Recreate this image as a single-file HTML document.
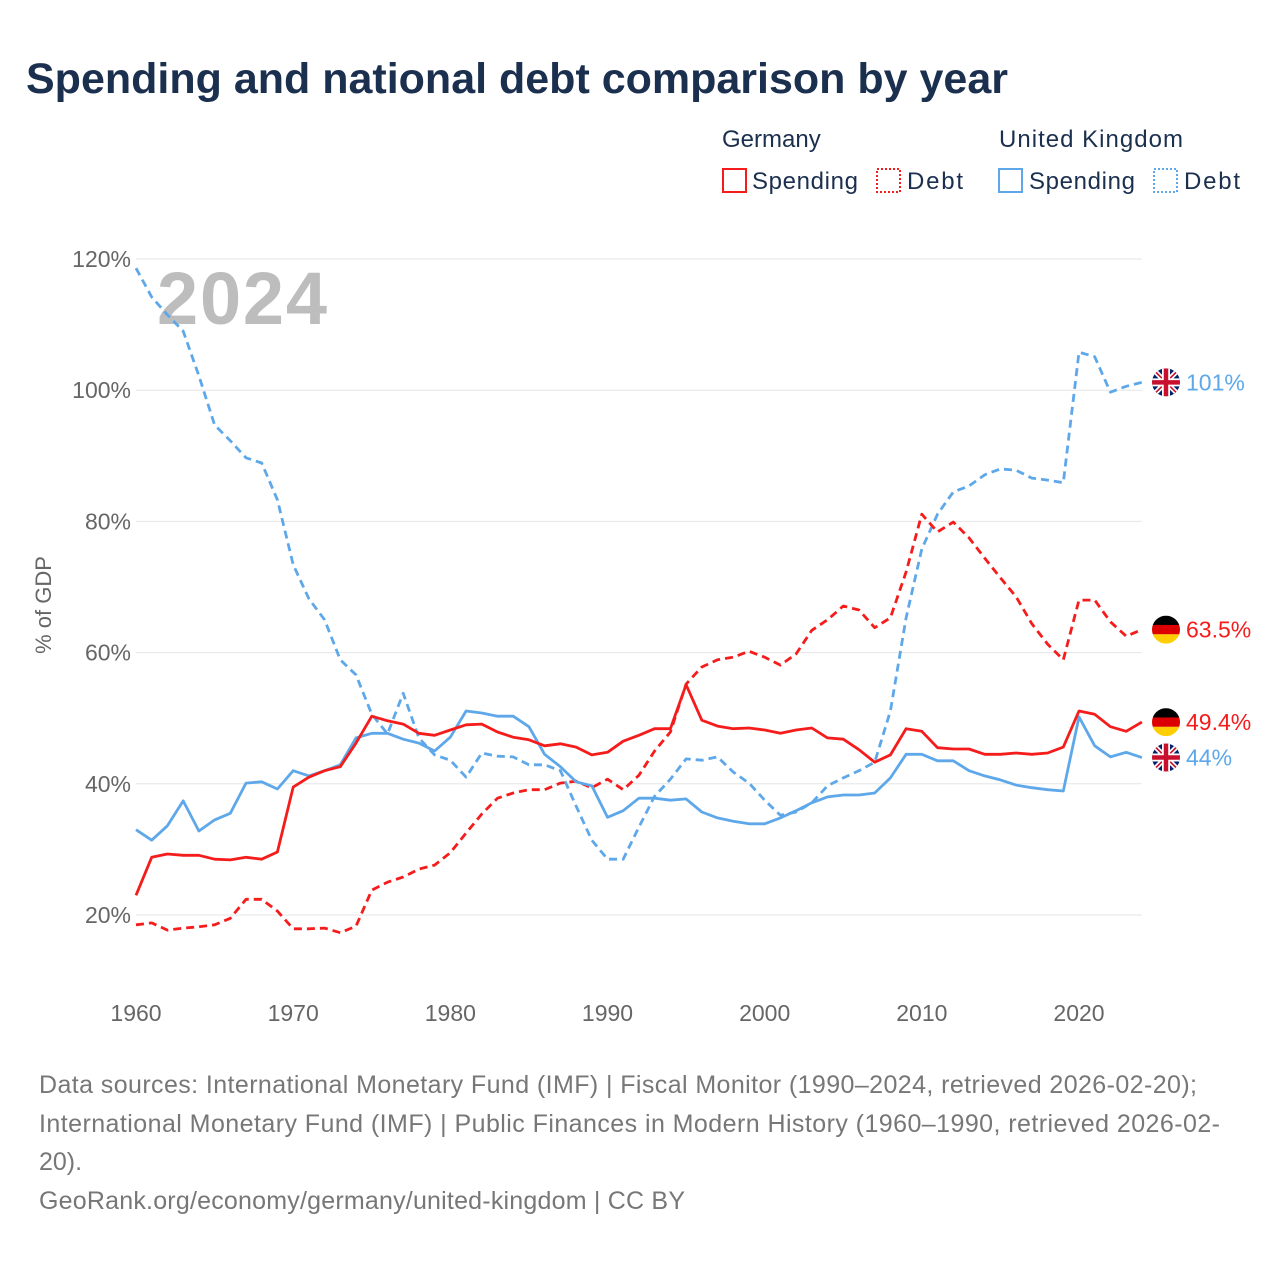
<!DOCTYPE html>
<html><head><meta charset="utf-8"><style>
body{margin:0;background:#fff;}
svg text{font-family:"Liberation Sans",sans-serif;}
</style></head><body>
<svg id="chart" width="1280" height="1280" viewBox="0 0 1280 1280" xmlns="http://www.w3.org/2000/svg">
<text x="26" y="93" font-size="43" font-weight="bold" fill="#1b2f4e">Spending and national debt comparison by year</text>
<g font-size="24" fill="#1b2f4e">
<text x="722" y="147">Germany</text>
<text x="999" y="147" textLength="184">United Kingdom</text>
<g><rect x="723" y="169" width="23" height="23" fill="none" stroke="#f51c1c" stroke-width="2"/><text x="752" y="189" textLength="106">Spending</text></g>
<g><rect x="877" y="169" width="23" height="23" fill="none" stroke="#f51c1c" stroke-width="2" stroke-dasharray="2,2"/><text x="907" y="189" textLength="56">Debt</text></g>
<g><rect x="999" y="169" width="23" height="23" fill="none" stroke="#5ea8ea" stroke-width="2"/><text x="1029" y="189" textLength="106">Spending</text></g>
<g><rect x="1154" y="169" width="23" height="23" fill="none" stroke="#5ea8ea" stroke-width="2" stroke-dasharray="2,2"/><text x="1184" y="189" textLength="56">Debt</text></g>
</g>
<text x="157" y="324" font-size="74" font-weight="bold" fill="#bdbdbd" textLength="170">2024</text>
<text transform="translate(51,605) rotate(-90)" text-anchor="middle" font-size="22" fill="#666">% of GDP</text>
<g id="grid"></g><g id="series"></g><g id="ends"></g>
<g font-size="25" fill="#777">
<text x="39" y="1093" textLength="1158">Data sources: International Monetary Fund (IMF) | Fiscal Monitor (1990–2024, retrieved 2026-02-20);</text>
<text x="39" y="1132" textLength="1181">International Monetary Fund (IMF) | Public Finances in Modern History (1960–1990, retrieved 2026-02-</text>
<text x="39" y="1170">20).</text>
<text x="39" y="1209" textLength="646">GeoRank.org/economy/germany/united-kingdom | CC BY</text>
</g>
</svg>
<script>
const years=[];for(let y=1960;y<=2024;y++)years.push(y);
const yTicks=[20,40,60,80,100,120];
const xTicks=[1960,1970,1980,1990,2000,2010,2020];
const deSpending=[23.0,28.8,29.3,29.1,29.1,28.5,28.4,28.8,28.5,29.6,39.5,41.0,42.0,42.6,46.2,50.3,49.6,49.1,47.7,47.4,48.2,49.0,49.1,47.9,47.1,46.7,45.8,46.1,45.6,44.4,44.8,46.5,47.4,48.4,48.4,55.1,49.7,48.8,48.4,48.5,48.2,47.7,48.2,48.5,47.0,46.8,45.2,43.3,44.4,48.4,48.0,45.5,45.3,45.3,44.5,44.5,44.7,44.5,44.7,45.6,51.1,50.6,48.7,48.0,49.4];
const deDebt=[18.5,18.8,17.7,18.0,18.2,18.5,19.5,22.4,22.4,20.6,17.9,17.9,18.0,17.3,18.3,23.8,25.0,25.8,27.0,27.6,29.5,32.5,35.4,37.8,38.6,39.1,39.1,40.1,40.4,39.4,40.7,39.1,41.3,45.0,47.9,55.2,57.8,58.9,59.3,60.2,59.3,58.1,59.8,63.4,65.0,67.1,66.5,63.8,65.3,72.3,81.1,78.4,79.9,77.5,74.4,71.4,68.5,64.4,61.3,58.9,68.0,68.0,64.7,62.5,63.5];
const ukSpending=[33.0,31.4,33.6,37.4,32.8,34.5,35.5,40.1,40.3,39.2,42.0,41.2,42.0,42.9,47.0,47.7,47.7,46.8,46.2,45.0,47.1,51.1,50.8,50.3,50.3,48.7,44.5,42.6,40.3,39.7,34.9,35.9,37.8,37.8,37.5,37.7,35.7,34.8,34.3,33.9,33.9,34.8,35.9,37.1,38.0,38.3,38.3,38.6,40.9,44.5,44.5,43.5,43.5,42.0,41.2,40.6,39.8,39.4,39.1,38.9,50.2,45.8,44.1,44.8,44.0];
const ukDebt=[118.6,114.2,111.5,109.0,102.2,94.7,92.3,89.7,88.9,83.3,73.4,68.2,65.0,58.9,56.6,50.6,47.6,53.8,47.0,44.4,43.6,41.0,44.7,44.2,44.1,42.9,42.9,42.0,36.6,31.4,28.5,28.5,33.4,38.1,40.7,43.8,43.6,44.1,41.8,40.1,37.5,35.2,35.7,37.1,39.7,40.9,42.0,43.3,51.1,65.3,75.8,81.1,84.5,85.4,87.1,88.0,87.8,86.6,86.3,85.9,105.8,105.1,99.7,100.6,101.2];
const endLabels=['101%','63.5%','49.4%','44%'];
const NS='http://www.w3.org/2000/svg';
const X=y=>136+(y-1960)*(943/60);
const Y=v=>915-(v-20)*6.56;
function mk(tag,attrs,parent){const e=document.createElementNS(NS,tag);for(const k in attrs)e.setAttribute(k,attrs[k]);parent.appendChild(e);return e;}
const grid=document.getElementById('grid');
yTicks.forEach(t=>{
 const l=mk('line',{x1:136,x2:1142,y1:Y(t),y2:Y(t),stroke:'#e6e6e6','stroke-width':1},grid);
 
 
 const tx=mk('text',{x:131,y:Y(t)+8,'text-anchor':'end','font-size':23,fill:'#666'},grid);
 tx.textContent=t+'%';
 
 
});
xTicks.forEach(t=>{
 const tx=mk('text',{x:X(t),y:1021,'text-anchor':'middle','font-size':23,fill:'#666'},grid);
 tx.textContent=t;
 
 
});
const ser=document.getElementById('series');
function line(data,color,dash,name){
 const d=data.map((v,i)=>(i?'L':'M')+X(years[i]).toFixed(1)+','+Y(v).toFixed(1)).join('');
 const p=mk('path',{d:d,fill:'none',stroke:color,'stroke-width':2.8,'stroke-linejoin':'round'},ser);
 if(dash)p.setAttribute('stroke-dasharray','8,5');
 
 
}
const RED='#f51c1c',BLUE='#5ea8ea';
line(ukDebt,BLUE,true,'uk-debt-line');
line(deDebt,RED,true,'germany-debt-line');
line(ukSpending,BLUE,false,'uk-spending-line');
line(deSpending,RED,false,'germany-spending-line');
const ends=document.getElementById('ends');
function flag(cx,cy,de,parent){
 const g=mk('g',{},parent);
 const id='c'+Math.round(cy);
 const cp=mk('clipPath',{id:id},g);mk('circle',{cx:cx,cy:cy,r:14},cp);
 const f=mk('g',{'clip-path':'url(#'+id+')'},g);
 if(de){
  mk('rect',{x:cx-14,y:cy-14,width:28,height:9.4,fill:'#000'},f);
  mk('rect',{x:cx-14,y:cy-4.7,width:28,height:9.4,fill:'#dd0000'},f);
  mk('rect',{x:cx-14,y:cy+4.7,width:28,height:9.4,fill:'#ffce00'},f);
 }else{
  mk('rect',{x:cx-14,y:cy-14,width:28,height:28,fill:'#012169'},f);
  mk('path',{d:`M${cx-14},${cy-14}L${cx+14},${cy+14}M${cx+14},${cy-14}L${cx-14},${cy+14}`,stroke:'#fff','stroke-width':5},f);
  mk('path',{d:`M${cx-14},${cy-14}L${cx+14},${cy+14}M${cx+14},${cy-14}L${cx-14},${cy+14}`,stroke:'#c8102e','stroke-width':1.6},f);
  mk('path',{d:`M${cx},${cy-14}V${cy+14}M${cx-14},${cy}H${cx+14}`,stroke:'#fff','stroke-width':8},f);
  mk('path',{d:`M${cx},${cy-14}V${cy+14}M${cx-14},${cy}H${cx+14}`,stroke:'#c8102e','stroke-width':4.5},f);
 }
 return g;
}
const endSeries=[[ukDebt,false,BLUE,'uk-debt'],[deDebt,true,RED,'germany-debt'],[deSpending,true,RED,'germany-spending'],[ukSpending,false,BLUE,'uk-spending']];
endSeries.forEach((s,i)=>{
 const cy=Y(s[0][s[0].length-1]);
 const g=flag(1166,cy,s[1],ends);
 
 
 const t=mk('text',{x:1186,y:cy+8,'font-size':23,fill:s[2]},ends);
 t.textContent=endLabels[i];
 
 
});
</script>
</body></html>
